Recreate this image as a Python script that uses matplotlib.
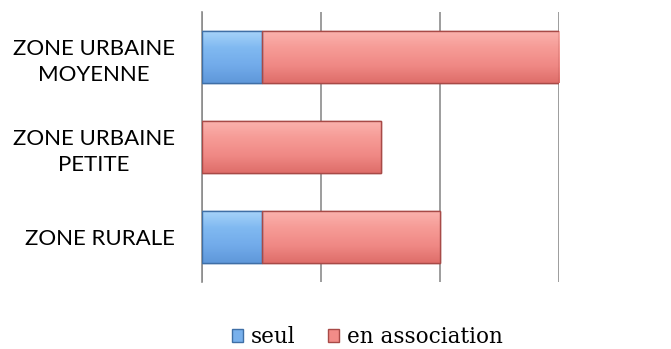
import matplotlib
matplotlib.use("Agg")
import matplotlib.pyplot as plt
import numpy as np
from matplotlib.patches import Patch
from matplotlib.colors import LinearSegmentedColormap

categories = ["ZONE RURALE", "ZONE URBAINE\nPETITE", "ZONE URBAINE\nMOYENNE"]
seul = [1, 0, 1]
en_association = [3, 3, 5]
series_names = ["seul", "en association"]

blue = "#78b0ec"
blue_edge = "#3f6fa6"
red = "#f28c88"
red_edge = "#a84a47"
blue_grad = LinearSegmentedColormap.from_list("b", ["#5f98da", "#72abea", "#80b9f1", "#a8d4fa"])
red_grad = LinearSegmentedColormap.from_list("r", ["#df6e6a", "#f08985", "#f69b96", "#fbb3ae"])

fig = plt.figure(figsize=(6.71, 3.49), dpi=100)
ax = fig.add_axes([202/671, 1-282/349, (559-202)/671, (282-12)/349])

ypos = list(range(len(categories)))
bh = 0.58
b1 = ax.barh(ypos, seul, height=bh, color=blue, edgecolor=blue_edge, linewidth=1, zorder=3)
b2 = ax.barh(ypos, en_association, left=seul, height=bh, color=red, edgecolor=red_edge, linewidth=1, zorder=3)

grad = np.linspace(0, 1, 64).reshape(-1, 1)
for bars, cmap in ((b1, blue_grad), (b2, red_grad)):
    for r in bars:
        x0, y0 = r.get_x(), r.get_y()
        w, h = r.get_width(), r.get_height()
        if w <= 0:
            continue
        im = ax.imshow(grad, cmap=cmap, origin="lower", extent=(x0, x0 + w, y0, y0 + h),
                       aspect="auto", zorder=3.5, interpolation="bilinear")
        im.set_clip_path(r)
        ax.add_patch(plt.Rectangle((x0, y0), w, h, fill=False, edgecolor=r.get_edgecolor(),
                                   linewidth=1, zorder=4))

ax.set_xlim(0, 6)
ax.set_ylim(-0.5, 2.5)
ax.set_xticks([0, 2, 4, 6])
ax.set_xticklabels([])
ax.tick_params(axis="x", length=0)
ax.tick_params(axis="y", length=0, pad=19.5)
ax.set_yticks(ypos)
ax.set_yticklabels(categories, fontsize=16, family="Lato", ha="right",
                   multialignment="center", linespacing=1.37)
ax.grid(axis="x", color="#8c8c8c", linewidth=1.2, zorder=0)
for s in ["top", "right", "bottom"]:
    ax.spines[s].set_visible(False)
ax.spines["left"].set_color("#8c8c8c")
ax.spines["left"].set_linewidth(1.2)

handles = [Patch(facecolor=blue, edgecolor=blue_edge, label=series_names[0]),
           Patch(facecolor=red, edgecolor=red_edge, label=series_names[1])]
fig.legend(handles=handles, loc="center", bbox_to_anchor=(0.547, 0.034), ncol=2, frameon=False,
           prop={"family": "DejaVu Serif", "size": 15.5}, handlelength=0.52, handleheight=0.52,
           handletextpad=0.35, columnspacing=1.52)

fig.savefig("out.png", dpi=100)
